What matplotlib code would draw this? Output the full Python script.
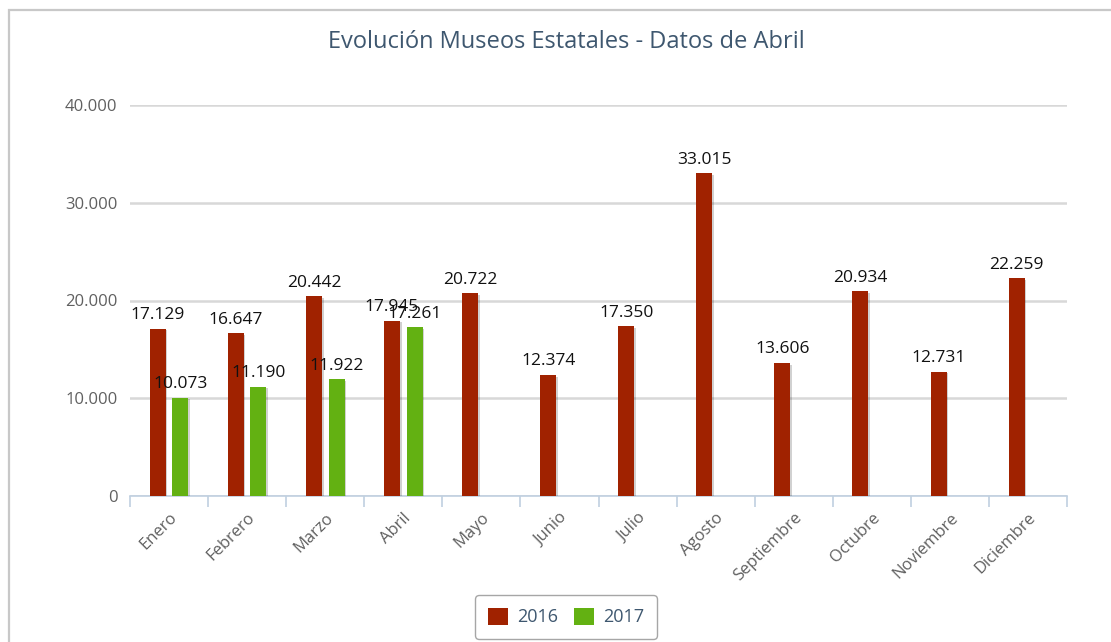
import numpy as np
import matplotlib.pyplot as plt
import matplotlib.patheffects as pe
from matplotlib.patches import Rectangle, Patch

plt.rcParams['font.family'] = ['Open Sans', 'DejaVu Sans']

months = ['Enero', 'Febrero', 'Marzo', 'Abril', 'Mayo', 'Junio', 'Julio',
          'Agosto', 'Septiembre', 'Octubre', 'Noviembre', 'Diciembre']
visits_2016 = [17129, 16647, 20442, 17945, 20722, 12374, 17350,
               33015, 13606, 20934, 12731, 22259]
visits_2017 = [10073, 11190, 11922, 17261]
y_ticks = [0, 10000, 20000, 30000, 40000]

red = '#A02200'
green = '#63B112'


def fmt(v):
    return '{:,}'.format(v).replace(',', '.')


fig = plt.figure(figsize=(11.11, 6.42), dpi=100)
ax = fig.add_axes([130 / 1111, 1 - 496 / 642, 937 / 1111, 391 / 642])

# outer chart border
fig.patches.append(Rectangle((9 / 1111, -0.1), 1.2, 1 - 10 / 642 + 0.1,
                             transform=fig.transFigure, fill=False,
                             edgecolor='#C8C8C8', lw=1.6))

x = np.arange(len(months))
w = 0.205
off = 0.145
shadow = [pe.SimplePatchShadow(offset=(1.2, -1.2), shadow_rgbFace='#000000', alpha=0.18), pe.Normal()]

b1 = ax.bar(x - off, visits_2016, w, color=red, zorder=3, label='2016')
b2 = ax.bar(x[:len(visits_2017)] + off, visits_2017, w, color=green, zorder=3, label='2017')
for b in list(b1) + list(b2):
    b.set_path_effects(shadow)

for rects in (b1, b2):
    for r in rects:
        h = r.get_height()
        ax.annotate(fmt(int(h)), (r.get_x() + r.get_width() / 2, h),
                    xytext=(0, 4), textcoords='offset points',
                    ha='center', va='bottom', fontsize=12.5, color='#111111', zorder=5)

ax.set_xlim(-0.5, len(months) - 0.5)
ax.set_ylim(0, 40000)
ax.set_yticks(y_ticks)
ax.set_yticklabels([fmt(v) for v in y_ticks])
ax.yaxis.grid(True, color='#D8D8D8', lw=1.8, zorder=0)
ax.tick_params(axis='y', length=0, pad=9, labelsize=12, labelcolor='#606060')

ax.set_xticks(x)
ax.set_xticklabels(months, rotation=45, ha='right', rotation_mode='anchor',
                   fontsize=12, color='#606060')
ax.set_xticks(np.arange(-0.5, len(months)), minor=True)
ax.tick_params(axis='x', which='major', length=0, pad=10)
ax.tick_params(axis='x', which='minor', length=8, color='#C0D0E0', width=1.2)

for s in ['top', 'right', 'left']:
    ax.spines[s].set_visible(False)
ax.spines['bottom'].set_color('#C0D0E0')
ax.spines['bottom'].set_linewidth(1.2)

fig.text(566 / 1111, 1 - 42 / 642, 'Evolución Museos Estatales - Datos de Abril',
         ha='center', va='center', fontsize=17, color='#3E576F')

handles = [Patch(facecolor=red, label='2016'), Patch(facecolor=green, label='2017')]
leg = fig.legend(handles=handles, loc='center', bbox_to_anchor=(566 / 1111, 1 - 617 / 642),
                 ncol=2, frameon=True, fancybox=True, edgecolor='#909090',
                 fontsize=13, handlelength=1.1, handleheight=1.1, handletextpad=0.5,
                 columnspacing=0.9, borderpad=0.7)
for t in leg.get_texts():
    t.set_color('#3E576F')

fig.savefig('out.png', dpi=100, facecolor='white')
